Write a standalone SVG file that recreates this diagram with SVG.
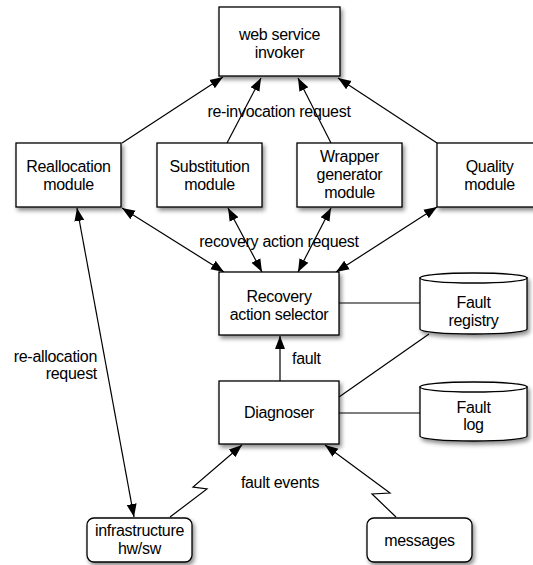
<svg xmlns="http://www.w3.org/2000/svg" width="533" height="565" viewBox="0 0 533 565">
<defs>
<filter id="sh" x="-20%" y="-20%" width="150%" height="160%">
<feDropShadow dx="2" dy="3" stdDeviation="2.2" flood-color="#000" flood-opacity="0.45"/>
</filter>
<marker id="ah" markerUnits="userSpaceOnUse" markerWidth="14" markerHeight="12" viewBox="0 0 14 12" refX="13" refY="6" orient="auto-start-reverse">
<path d="M0,1 L13,6 L0,11 Z" fill="#000"/>
</marker>
<style>
.box{fill:#fff;stroke:#000;stroke-width:1.3;filter:url(#sh)}
.cyl{fill:#fff;stroke:#000;stroke-width:1.3}
.t{font-family:"Liberation Sans",Arial,Helvetica,sans-serif;font-size:16px;fill:#000;text-anchor:middle;letter-spacing:-0.3px}
.l{stroke:#000;stroke-width:1.2;fill:none}
.a{marker-end:url(#ah)}
.b{marker-start:url(#ah);marker-end:url(#ah)}
</style>
</defs>

<g id="connectors">
<line class="l a" x1="122" y1="143" x2="223" y2="77"/>
<line class="l a" x1="227" y1="143" x2="261" y2="78"/>
<line class="l a" x1="331" y1="143" x2="298" y2="78"/>
<line class="l a" x1="437" y1="143" x2="338" y2="78"/>
<line class="l b" x1="122" y1="208" x2="224" y2="272"/>
<line class="l b" x1="228" y1="208" x2="262" y2="272"/>
<line class="l b" x1="331" y1="208" x2="298" y2="272"/>
<line class="l b" x1="437" y1="207" x2="336" y2="272"/>
<line class="l" x1="339" y1="303" x2="420" y2="303"/>
<line class="l" x1="339" y1="397" x2="429" y2="334"/>
<line class="l" x1="339" y1="413" x2="420" y2="413"/>
<line class="l a" x1="280" y1="381" x2="280" y2="336"/>
<line class="l b" x1="77" y1="208" x2="134" y2="517"/>
<polyline class="l a" points="170,517 207,489 193,487 242,445"/>
<polyline class="l a" points="396,517 372,494 390,493 325,445"/>
<text class="t" x="279" y="117">re-invocation request</text>
<text class="t" x="279" y="247">recovery action request</text>
<text class="t" x="292" y="364" style="text-anchor:start">fault</text>
<text class="t" x="280" y="488">fault events</text>
<text class="t" x="97" y="362" style="text-anchor:end">re-allocation</text>
<text class="t" x="97" y="379" style="text-anchor:end">request</text>
</g>

<g id="invoker">
<rect class="box" x="219" y="7" width="121" height="69"/>
<text class="t" x="279.5" y="40">web service</text>
<text class="t" x="279.5" y="58">invoker</text>
</g>

<g id="reallocation">
<rect class="box" x="16" y="143" width="105" height="64"/>
<text class="t" x="68.5" y="172">Reallocation</text>
<text class="t" x="68.5" y="190">module</text>
</g>

<g id="substitution">
<rect class="box" x="157" y="143" width="105" height="64"/>
<text class="t" x="209.5" y="172">Substitution</text>
<text class="t" x="209.5" y="190">module</text>
</g>

<g id="wrapper">
<rect class="box" x="297" y="143" width="105" height="64"/>
<text class="t" x="349.5" y="162">Wrapper</text>
<text class="t" x="349.5" y="180">generator</text>
<text class="t" x="349.5" y="198">module</text>
</g>

<g id="quality">
<rect class="box" x="437" y="143" width="105" height="64"/>
<text class="t" x="489.5" y="172">Quality</text>
<text class="t" x="489.5" y="190">module</text>
</g>

<g id="recovery">
<rect class="box" x="219" y="272" width="120" height="63"/>
<text class="t" x="279" y="302">Recovery</text>
<text class="t" x="279" y="320">action selector</text>
</g>

<g id="diagnoser">
<rect class="box" x="219" y="381" width="120" height="63"/>
<text class="t" x="279" y="418">Diagnoser</text>
</g>

<g id="fault-registry">
<g filter="url(#sh)">
<path class="cyl" d="M420,278 V329 A53.5,5 0 0 0 527,329 V278 Z"/>
<ellipse class="cyl" cx="473.5" cy="278" rx="53.5" ry="5"/>
</g>
<text class="t" x="473.5" y="308">Fault</text>
<text class="t" x="473.5" y="326">registry</text>
</g>

<g id="fault-log">
<g filter="url(#sh)">
<path class="cyl" d="M420,387 V436 A53.5,5 0 0 0 527,436 V387 Z"/>
<ellipse class="cyl" cx="473.5" cy="387" rx="53.5" ry="5"/>
</g>
<text class="t" x="473.5" y="413">Fault</text>
<text class="t" x="473.5" y="430">log</text>
</g>

<g id="infrastructure">
<rect class="box" x="87" y="518" width="105" height="44" rx="7"/>
<text class="t" x="139.5" y="536">infrastructure</text>
<text class="t" x="139.5" y="554">hw/sw</text>
</g>

<g id="messages">
<rect class="box" x="367" y="518" width="105" height="44" rx="7"/>
<text class="t" x="419.5" y="546">messages</text>
</g>
</svg>
